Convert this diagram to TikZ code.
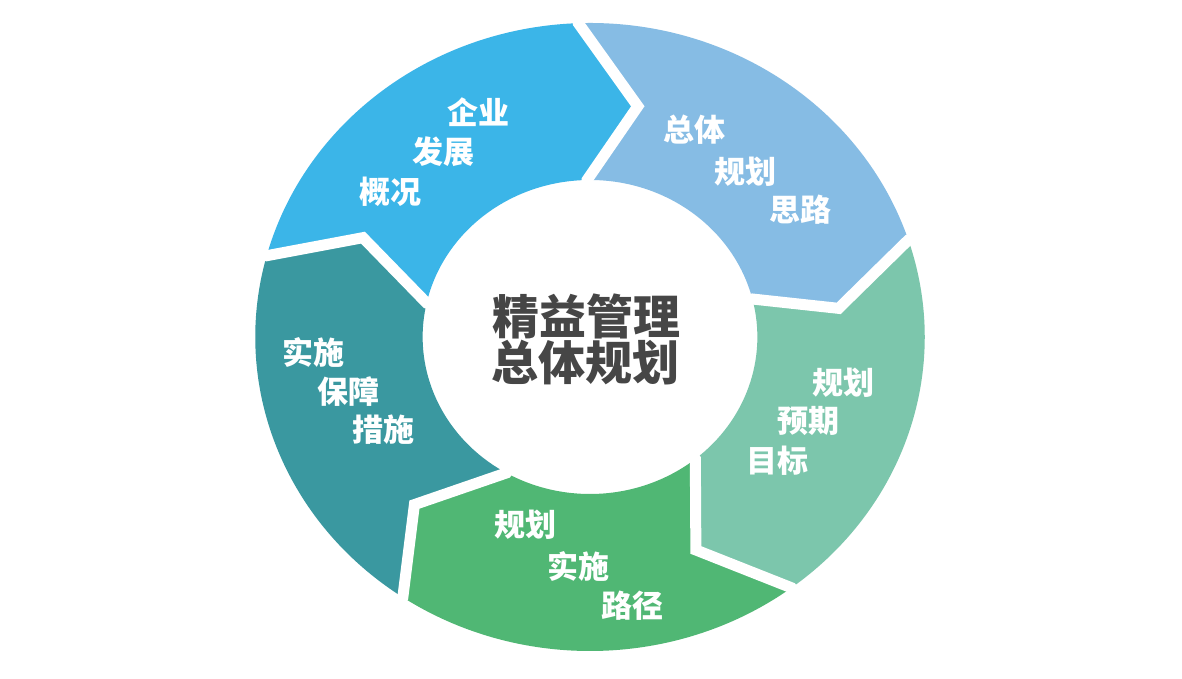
\documentclass[tikz,border=0pt]{standalone}
\usepackage{fontspec}
\newfontfamily\cjk{Noto Sans CJK SC}
\definecolor{cBlue}{RGB}{59,181,232}
\definecolor{cLight}{RGB}{134,188,228}
\definecolor{cMint}{RGB}{124,198,172}
\definecolor{cGreen}{RGB}{80,183,116}
\definecolor{cTeal}{RGB}{58,152,160}
\definecolor{cText}{RGB}{70,70,70}
\newcommand{\ringseg}[7]{%
  \fill[#1] (#2:314) arc[start angle=#2, end angle=#5, radius=314]
    -- (#6:235) -- (#7:157)
    arc[start angle=#7, end angle=#4, radius=157]
    -- (#3:235) -- cycle;}
\newcommand{\ringgap}[3]{%
  \draw[gapline] (#1:340) -- (#1:314) -- (#2:235) -- (#3:157) -- (#3:130);}
\tikzset{
  gapline/.style={white, line width=11pt, line join=miter},
  lbl/.style={font=\cjk\bfseries\fontsize{31}{31}\selectfont, text=white, inner sep=0pt},
  ctr/.style={font=\cjk\bfseries\fontsize{47}{47}\selectfont, text=cText, inner sep=0pt}
}
\begin{document}
\begin{tikzpicture}[x=1pt,y=1pt]
\useasboundingbox (0,0) rectangle (1182,679);
\fill[white] (0,0) rectangle (1182,679);
\begin{scope}[shift={(590,342)}, xscale=1.066]
  % boundaries (outer, tip, inner angles)
  \ringseg{cBlue}{165}{155}{167.5}{92}{79}{91}
  \ringseg{cLight}{92}{79}{91}{18}{7}{14}
  \ringseg{cMint}{18}{7}{14}{-53}{-65}{-51}
  \ringseg{cGreen}{-53}{-65}{-51}{-124}{-134.5}{-120}
  \ringseg{cTeal}{-124}{-134.5}{-120}{-195}{-205}{-192.5}
  \ringgap{92}{79}{91}
  \ringgap{18}{7}{14}
  \ringgap{-53}{-65}{-51}
  \ringgap{-124}{-134.5}{-120}
  \ringgap{165}{155}{167.5}
\end{scope}
% blue
\node[lbl] (b1) at (478,567) {企业};
\node[lbl] (b2) at (443,527) {发展};
\node[lbl] (b3) at (390,487) {概况};
% light blue
\node[lbl] (l1) at (694,549) {总体};
\node[lbl] (l2) at (745,507) {规划};
\node[lbl] (l3) at (800,469) {思路};
% mint
\node[lbl] (m1) at (843,296) {规划};
\node[lbl] (m2) at (808,258) {预期};
\node[lbl] (m3) at (777,218) {目标};
% green
\node[lbl] (g1) at (525,154) {规划};
\node[lbl] (g2) at (578,113) {实施};
\node[lbl] (g3) at (632,73) {路径};
% teal
\node[lbl] (t1) at (313,327) {实施};
\node[lbl] (t2) at (348,287) {保障};
\node[lbl] (t3) at (383,249) {措施};
% center
\node[ctr] (c1) at (586,363) {精益管理};
\node[ctr] (c2) at (585,316) {总体规划};
\end{tikzpicture}
\end{document}
